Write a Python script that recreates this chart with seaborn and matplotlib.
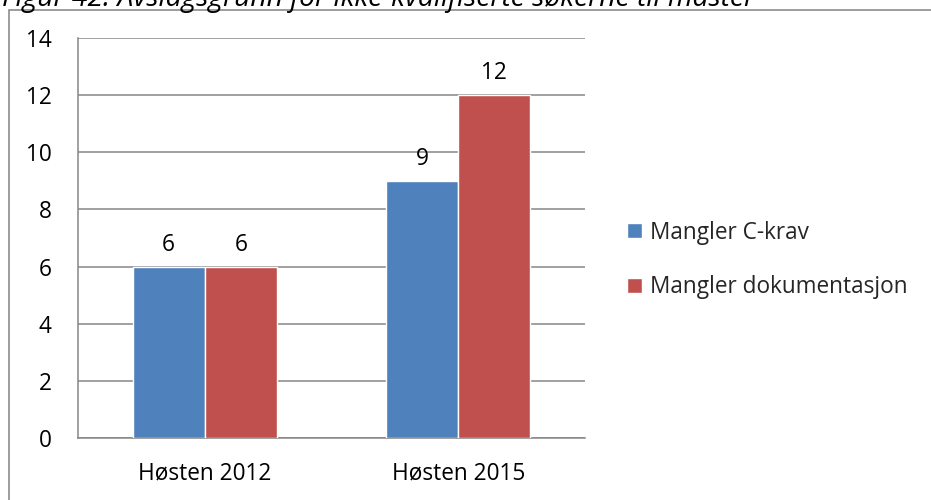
import matplotlib
matplotlib.use("Agg")
import matplotlib.pyplot as plt
import seaborn as sns
import pandas as pd
from matplotlib.patches import Rectangle

# Data
periods = ["Høsten 2012", "Høsten 2015"]
series_names = ["Mangler C-krav", "Mangler dokumentasjon"]
c_krav = [6, 9]
dokumentasjon = [6, 12]
y_ticks = [0, 2, 4, 6, 8, 10, 12, 14]
title = "Figur 42: Avslagsgrunn for ikke-kvalifiserte søkerne til master"

colors = ["#4F81BD", "#C0504D"]
grid_color = "#868686"
text_color = "#000000"
fs = 16.3

sns.set_theme(style="white")
plt.rcParams["font.family"] = ["Open Sans", "DejaVu Sans"]

df = pd.DataFrame({
    "period": periods * 2,
    "series": [series_names[0]] * 2 + [series_names[1]] * 2,
    "value": c_krav + dokumentasjon,
})

fig = plt.figure(figsize=(9.31, 5.0), dpi=100)
ax = fig.add_axes([78 / 931, 62 / 500, (585 - 78) / 931, 400 / 500])

sns.barplot(data=df, x="period", y="value", hue="series", order=periods,
            hue_order=series_names, palette=colors, width=0.57, gap=0,
            saturation=1, errorbar=None, ax=ax, zorder=3, legend=True)

for cont in ax.containers:
    ax.bar_label(cont, fmt="%d", padding=7, fontsize=fs, color=text_color)

ax.set_ylim(0, 14)
ax.set_xlim(-0.5, 1.5)
ax.set_yticks(y_ticks)
ax.set_yticklabels([str(v) for v in y_ticks], fontsize=fs, color=text_color)
ax.yaxis.grid(True, color=grid_color, linewidth=1.1, zorder=0)
ax.set_axisbelow(True)

# category boundaries carry the tick marks, labels sit in between
ax.set_xticks([-0.5, 0.5, 1.5])
ax.set_xticklabels(["", "", ""])
ax.set_xticks([0, 1], minor=True)
ax.set_xticklabels(periods, minor=True, fontsize=fs, color=text_color)
ax.tick_params(axis="x", which="major", length=6, width=1.1, color=grid_color,
               direction="out")
ax.tick_params(axis="x", which="minor", length=0, pad=17)
ax.tick_params(axis="y", length=6, width=1.1, color=grid_color, direction="out",
               pad=13)

ax.set_xlabel("")
ax.set_ylabel("")
for side in ["top", "right"]:
    ax.spines[side].set_visible(False)
for side in ["left", "bottom"]:
    ax.spines[side].set_color(grid_color)
    ax.spines[side].set_linewidth(1.1)

handles, labels = ax.get_legend_handles_labels()
ax.legend_.remove()
fig.legend(handles, labels, loc="center left",
           bbox_to_anchor=(627 / 931, 1 - 260 / 500), frameon=False,
           fontsize=fs, handlelength=0.65, handleheight=0.65,
           handletextpad=0.35, labelspacing=1.35, borderaxespad=0,
           borderpad=0)

# outer chart frame
fig.patches.append(Rectangle((9 / 931, -0.05), 1.1, 1 - 10 / 500 + 0.05,
                             transform=fig.transFigure, fill=False,
                             edgecolor="#8C8C8C", linewidth=1.2))

fig.text(0.002, 1 - 6 / 500, title, fontsize=20.3, style="italic",
         color=text_color, ha="left", va="baseline")

fig.savefig("out.png", dpi=100)
